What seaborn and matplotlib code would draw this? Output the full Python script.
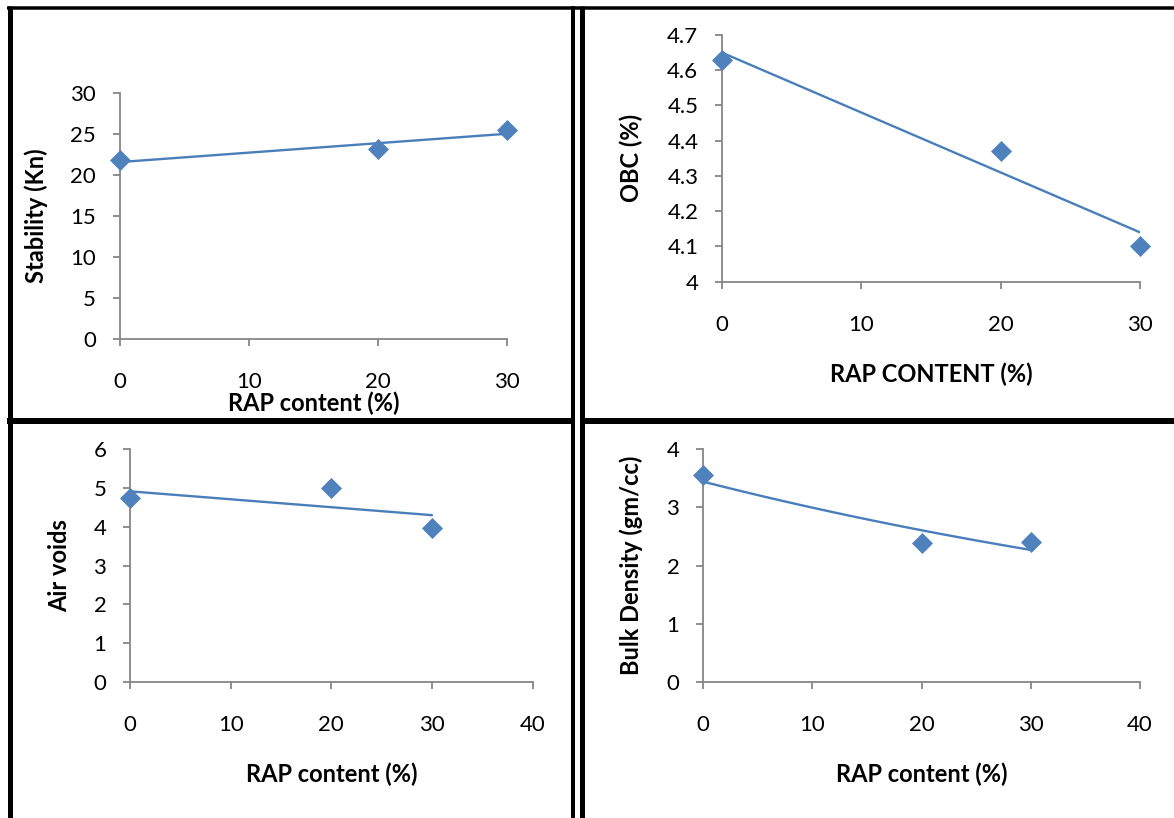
"""Marshall test results vs RAP content: four panels with Excel-style trendlines."""
import matplotlib
matplotlib.use("Agg")
import matplotlib.pyplot as plt
from matplotlib.lines import Line2D
from matplotlib.ticker import FuncFormatter
import numpy as np
import pandas as pd
import seaborn as sns

sns.set_theme(style="white")
plt.rcParams["font.family"] = ["Lato", "DejaVu Sans"]

# ---------------------------------------------------------------------------
# Data
# ---------------------------------------------------------------------------
rap = [0, 20, 30]
stability = [21.8, 23.1, 25.5]
obc = [4.63, 4.37, 4.10]
air_voids = [4.75, 5.0, 3.97]
bulk_density = [3.55, 2.38, 2.41]

BLUE = "#4F81BD"
LINE_BLUE = "#4A7EBB"
GRAY = "#868686"
W, H = 1174, 818

# (values, ylabel, xlabel, ylim, yticks, xmax, fit, axes rect px, xlabel y, ylabel x)
panels = [
    (stability, "Stability (Kn)", "RAP content (%)", (0, 30), np.arange(0, 31, 5), 30,
     "linear", (119.7, 92.7, 507, 339), -0.26, -0.215),
    (obc, "OBC (%)", "RAP CONTENT (%)", (4, 4.7), np.arange(4.0, 4.71, 0.1), 30,
     "linear", (722, 35, 1140, 281.7), -0.374, -0.218),
    (air_voids, "Air voids", "RAP content (%)", (0, 6), np.arange(0, 7, 1), 40,
     "linear", (130, 449.3, 532.6, 681.7), -0.397, -0.175),
    (bulk_density, "Bulk Density (gm/cc)", "RAP content (%)", (0, 4), np.arange(0, 5, 1), 40,
     "exp", (703, 449.3, 1140, 681.7), -0.397, -0.165),
]

fig = plt.figure(figsize=(W / 100, H / 100), dpi=100)
fig.patch.set_facecolor("white")


def px_rect(l, t, r, b):
    return [l / W, 1 - b / H, (r - l) / W, (b - t) / H]


def tick_fmt(v, pos):
    return f"{v:.0f}" if abs(v - round(v)) < 1e-9 else f"{v:.1f}"


for vals, ylab, xlab, ylim, yticks, xmax, fit, rect, xl_y, yl_x in panels:
    ax = fig.add_axes(px_rect(*rect))
    df = pd.DataFrame({"x": rap, "y": vals})

    # trendline as Excel would draw it, from first to last point
    xs = np.linspace(min(rap), max(rap), 60)
    if fit == "linear":
        k, c = np.polyfit(rap, vals, 1)
        ys = k * xs + c
    else:
        k, c = np.polyfit(rap, np.log(vals), 1)
        ys = np.exp(c) * np.exp(k * xs)
    sns.lineplot(x=xs, y=ys, ax=ax, color=LINE_BLUE, lw=1.7, zorder=2)
    sns.scatterplot(data=df, x="x", y="y", ax=ax, marker="D", s=115, color=BLUE,
                    edgecolor=BLUE, linewidth=0, zorder=3, clip_on=False)

    ax.set_xlim(0, xmax)
    ax.set_ylim(*ylim)
    ax.set_xticks(np.arange(0, xmax + 1, 10))
    ax.set_yticks(yticks)
    ax.yaxis.set_major_formatter(FuncFormatter(tick_fmt))
    for side in ("top", "right"):
        ax.spines[side].set_visible(False)
    for side in ("left", "bottom"):
        ax.spines[side].set_color(GRAY)
        ax.spines[side].set_linewidth(1.3)
    ax.tick_params(axis="both", direction="out", length=5, width=1.3, color=GRAY,
                   labelsize=16, labelcolor="black", left=True, bottom=True)
    ax.tick_params(axis="x", pad=19)
    ax.tick_params(axis="y", pad=12)

    ax.set_xlabel(xlab, fontsize=17, fontweight="bold", color="black")
    ax.set_ylabel(ylab, fontsize=17, fontweight="bold", color="black")
    ax.xaxis.label.set_va("center")
    ax.yaxis.label.set_va("center")
    ax.xaxis.set_label_coords(0.5, xl_y)
    ax.yaxis.set_label_coords(yl_x, 0.5)


# panel borders (black frames around each chart)
def px_line(x0, y0, x1, y1, lw_px):
    fig.add_artist(Line2D([x0 / W, x1 / W], [1 - y0 / H, 1 - y1 / H],
                          transform=fig.transFigure, color="black",
                          lw=lw_px * 0.72, solid_capstyle="butt"))


px_line(7, 7.7, W, 7.7, 3.5)
px_line(9.5, 6, 9.5, H, 5)
px_line(573, 6, 573, H, 4)
px_line(581.5, 6, 581.5, H, 5)
px_line(7, 421, 573, 421, 6)
px_line(581.5, 421, W, 421, 6)

fig.savefig("out.png", dpi=100, facecolor="white")
